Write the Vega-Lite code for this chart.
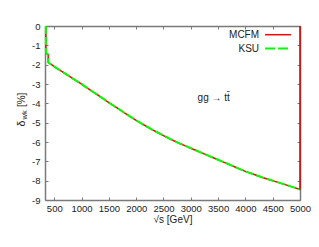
{
  "$schema": "https://vega.github.io/schema/vega-lite/v6.json",
  "width": 255,
  "height": 174,
  "autosize": "none",
  "padding": {"left": 45, "top": 26, "right": 19, "bottom": 47},
  "background": "white",
  "config": {
    "view": {"stroke": null},
    "font": "Liberation Sans",
    "axis": {
      "grid": false,
      "domainColor": "#7a7a7a",
      "domainWidth": 1.5,
      "tickColor": "#7a7a7a",
      "tickSize": -3,
      "tickWidth": 1,
      "labelFont": "Liberation Sans",
      "labelFontSize": 9.5,
      "labelColor": "#222",
      "titleFont": "Liberation Sans",
      "titleFontSize": 10,
      "titleFontWeight": "normal",
      "titleColor": "#222"
    }
  },
  "datasets": {
    "curve": [
      {"s": 346, "mcfm": 0, "ksu": 0},
      {"s": 347, "mcfm": -1.3, "ksu": -1.3},
      {"s": 355, "mcfm": -1.42, "ksu": -1.42},
      {"s": 388, "mcfm": -1.48, "ksu": -1.48},
      {"s": 390, "mcfm": -1.88, "ksu": -1.88},
      {"s": 420, "mcfm": -1.95, "ksu": -1.95},
      {"s": 450, "mcfm": -2.0, "ksu": -2.0},
      {"s": 500, "mcfm": -2.1, "ksu": -2.1},
      {"s": 600, "mcfm": -2.28, "ksu": -2.28},
      {"s": 700, "mcfm": -2.46, "ksu": -2.46},
      {"s": 800, "mcfm": -2.64, "ksu": -2.64},
      {"s": 900, "mcfm": -2.83, "ksu": -2.83},
      {"s": 1000, "mcfm": -3.01, "ksu": -3.01},
      {"s": 1100, "mcfm": -3.2, "ksu": -3.2},
      {"s": 1200, "mcfm": -3.39, "ksu": -3.39},
      {"s": 1300, "mcfm": -3.58, "ksu": -3.58},
      {"s": 1400, "mcfm": -3.77, "ksu": -3.77},
      {"s": 1500, "mcfm": -3.96, "ksu": -3.96},
      {"s": 1600, "mcfm": -4.15, "ksu": -4.15},
      {"s": 1700, "mcfm": -4.33, "ksu": -4.33},
      {"s": 1800, "mcfm": -4.52, "ksu": -4.52},
      {"s": 1900, "mcfm": -4.7, "ksu": -4.7},
      {"s": 2000, "mcfm": -4.88, "ksu": -4.88},
      {"s": 2100, "mcfm": -5.05, "ksu": -5.05},
      {"s": 2200, "mcfm": -5.21, "ksu": -5.21},
      {"s": 2300, "mcfm": -5.37, "ksu": -5.37},
      {"s": 2400, "mcfm": -5.52, "ksu": -5.52},
      {"s": 2500, "mcfm": -5.67, "ksu": -5.67},
      {"s": 2600, "mcfm": -5.81, "ksu": -5.81},
      {"s": 2700, "mcfm": -5.95, "ksu": -5.95},
      {"s": 2800, "mcfm": -6.08, "ksu": -6.08},
      {"s": 2900, "mcfm": -6.2, "ksu": -6.2},
      {"s": 3000, "mcfm": -6.32, "ksu": -6.32},
      {"s": 3100, "mcfm": -6.44, "ksu": -6.44},
      {"s": 3200, "mcfm": -6.56, "ksu": -6.56},
      {"s": 3300, "mcfm": -6.68, "ksu": -6.68},
      {"s": 3400, "mcfm": -6.8, "ksu": -6.8},
      {"s": 3500, "mcfm": -6.92, "ksu": -6.92},
      {"s": 3600, "mcfm": -7.04, "ksu": -7.04},
      {"s": 3700, "mcfm": -7.16, "ksu": -7.16},
      {"s": 3800, "mcfm": -7.28, "ksu": -7.28},
      {"s": 3900, "mcfm": -7.4, "ksu": -7.4},
      {"s": 4000, "mcfm": -7.52, "ksu": -7.52},
      {"s": 4100, "mcfm": -7.62, "ksu": -7.62},
      {"s": 4200, "mcfm": -7.72, "ksu": -7.72},
      {"s": 4300, "mcfm": -7.82, "ksu": -7.82},
      {"s": 4400, "mcfm": -7.91, "ksu": -7.91},
      {"s": 4500, "mcfm": -8.0, "ksu": -8.0},
      {"s": 4600, "mcfm": -8.09, "ksu": -8.09},
      {"s": 4700, "mcfm": -8.18, "ksu": -8.18},
      {"s": 4800, "mcfm": -8.27, "ksu": -8.27},
      {"s": 4900, "mcfm": -8.36, "ksu": -8.36},
      {"s": 5000, "mcfm": -8.46, "ksu": -8.46}
    ],
    "one": [{}]
  },
  "layer": [
    {
      "data": {"name": "curve"},
      "mark": {"type": "line", "color": "#ff0000", "strokeWidth": 1.5},
      "encoding": {
        "x": {"field": "s", "type": "quantitative", "scale": {"domain": [330, 5000], "nice": false, "zero": false},
              "axis": {"orient": "bottom", "title": "√s [GeV]", "format": "d", "values": [500, 1000, 1500, 2000, 2500, 3000, 3500, 4000, 4500, 5000], "labelPadding": 6, "titlePadding": 2, "labelFlush": false}},
        "y": {"field": "mcfm", "type": "quantitative", "scale": {"domain": [-9, 0], "nice": false, "zero": false},
              "axis": {"orient": "left", "title": null, "values": [0, -1, -2, -3, -4, -5, -6, -7, -8, -9], "labelPadding": 8, "labelExpr": "replace(datum.label, '−', '-')", "labelFlush": false}}
      }
    },
    {
      "data": {"name": "curve"},
      "mark": {"type": "line", "color": "#00ff00", "strokeWidth": 2, "strokeDash": [8, 3]},
      "encoding": {
        "x": {"field": "s", "type": "quantitative", "axis": {"orient": "top", "labels": false, "title": null, "domain": true, "values": [500, 1000, 1500, 2000, 2500, 3000, 3500, 4000, 4500, 5000]}},
        "y": {"field": "ksu", "type": "quantitative", "axis": {"orient": "right", "labels": false, "title": null, "domain": true, "values": [0, -1, -2, -3, -4, -5, -6, -7, -8, -9]}}
      }
    },
    {
      "data": {"name": "one"},
      "mark": {"type": "rule", "color": "#dd0000", "strokeWidth": 1.5},
      "encoding": {
        "x": {"datum": 5000, "type": "quantitative", "axis": null},
        "y": {"datum": 0, "type": "quantitative", "axis": null},
        "y2": {"datum": -8.46}
      }
    },
    {
      "data": {"name": "one"},
      "mark": {"type": "text", "align": "right", "baseline": "middle", "fontSize": 10, "color": "#222"},
      "encoding": {
        "x": {"datum": 4250, "type": "quantitative", "axis": null},
        "y": {"datum": -0.45, "type": "quantitative", "axis": null},
        "text": {"value": "MCFM"}
      }
    },
    {
      "data": {"name": "one"},
      "mark": {"type": "text", "align": "right", "baseline": "middle", "fontSize": 10, "color": "#222"},
      "encoding": {
        "x": {"datum": 4250, "type": "quantitative", "axis": null},
        "y": {"datum": -1.17, "type": "quantitative", "axis": null},
        "text": {"value": "KSU"}
      }
    },
    {
      "data": {"name": "one"},
      "mark": {"type": "rule", "color": "#ff0000", "strokeWidth": 1.5},
      "encoding": {
        "x": {"datum": 4360, "type": "quantitative", "axis": null},
        "x2": {"datum": 4835},
        "y": {"datum": -0.45, "type": "quantitative", "axis": null}
      }
    },
    {
      "data": {"name": "one"},
      "mark": {"type": "rule", "color": "#00ff00", "strokeWidth": 2, "strokeDash": [10, 3]},
      "encoding": {
        "x": {"datum": 4360, "type": "quantitative", "axis": null},
        "x2": {"datum": 4835},
        "y": {"datum": -1.17, "type": "quantitative", "axis": null}
      }
    },
    {
      "data": {"name": "one"},
      "mark": {"type": "text", "align": "center", "baseline": "middle", "fontSize": 10, "color": "#222"},
      "encoding": {
        "x": {"datum": 3420, "type": "quantitative", "axis": null},
        "y": {"datum": -3.7, "type": "quantitative", "axis": null},
        "text": {"value": "gg → tt̄"}
      }
    },
    {
      "data": {"name": "one"},
      "mark": {"type": "text", "align": "center", "baseline": "middle", "fontSize": 10, "color": "#222", "angle": 270, "dy": -23},
      "encoding": {
        "x": {"datum": 330, "type": "quantitative", "axis": null},
        "y": {"datum": -3.82, "type": "quantitative", "axis": null},
        "text": {"value": "[%]"}
      }
    },
    {
      "data": {"name": "one"},
      "mark": {"type": "text", "align": "center", "baseline": "middle", "fontSize": 7.5, "color": "#222", "angle": 270, "dy": -20},
      "encoding": {
        "x": {"datum": 330, "type": "quantitative", "axis": null},
        "y": {"datum": -4.6, "type": "quantitative", "axis": null},
        "text": {"value": "wk"}
      }
    },
    {
      "data": {"name": "one"},
      "mark": {"type": "text", "align": "center", "baseline": "middle", "fontSize": 10.5, "color": "#222", "angle": 270, "dy": -23},
      "encoding": {
        "x": {"datum": 330, "type": "quantitative", "axis": null},
        "y": {"datum": -5.05, "type": "quantitative", "axis": null},
        "text": {"value": "δ"}
      }
    }
  ]
}
